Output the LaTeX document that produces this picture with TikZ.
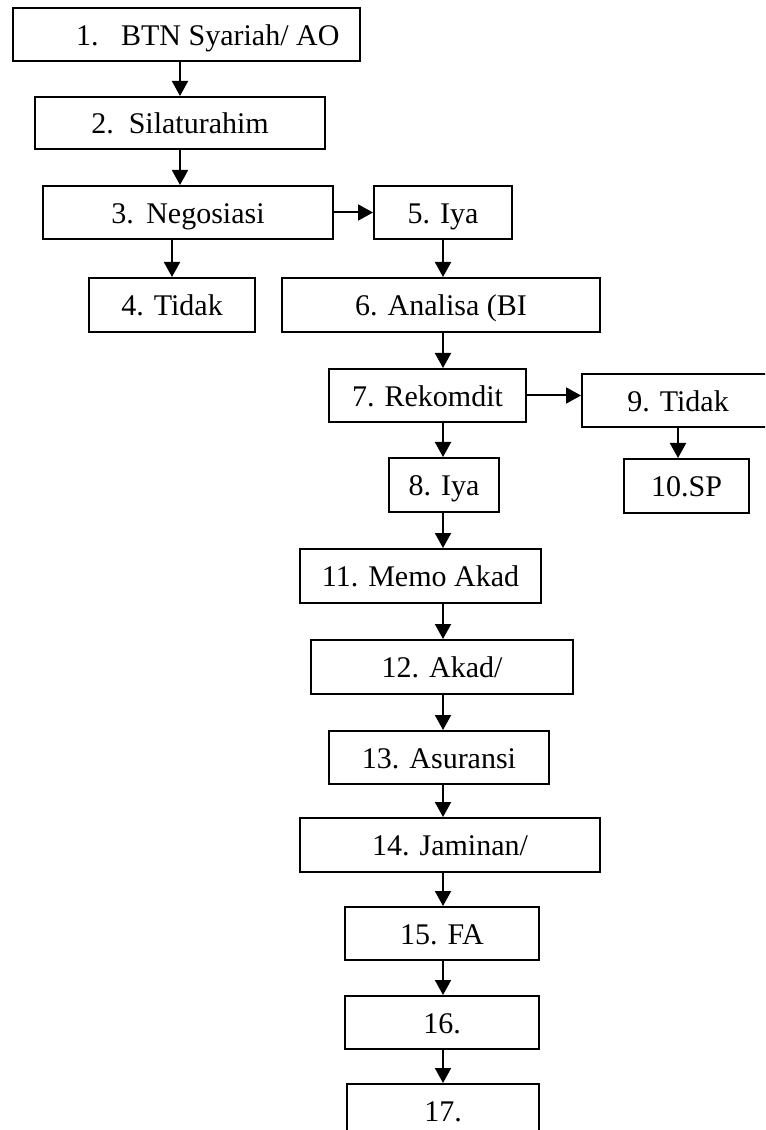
\documentclass[tikz,border=0pt]{standalone}
\usepackage{fontspec}
\setmainfont{Liberation Serif}
\usetikzlibrary{arrows.meta}

\begin{document}
\begin{tikzpicture}[
  x=0.4pt, y=-0.4pt,
  box/.style={draw, line width=0.8pt, inner sep=0pt, text height=9.5pt, text depth=0.9pt,
    font=\fontsize{12}{14}\selectfont},
  arr/.style={-{Triangle[length=6pt, width=6.4pt]}, line width=0.8pt}
]
\useasboundingbox (0,0) rectangle (765,1130);
\clip (0,0) rectangle (765,1130);

% column of arrows under 5. Iya
\coordinate (spine) at (443,0);

\node[box, minimum width=138.8pt, minimum height=21.2pt] (b1) at (186.5,34.5)
  {\hspace*{17pt}1.\hspace{9pt}BTN Syariah/ AO};
\node[box, minimum width=116pt, minimum height=20.8pt] (b2) at (180,123)
  {2.\hspace{6pt}Silaturahim};
\node[box, minimum width=116pt, minimum height=21.2pt] (b3) at (188,212.5)
  {3.\hspace{5pt}Negosiasi};
\node[box, minimum width=55.2pt, minimum height=21.2pt] (b5) at (443,212.5) {5. Iya};
\node[box, minimum width=66.4pt, minimum height=21.6pt] (b4) at (172,305) {4. Tidak};
\node[box, minimum width=127.2pt, minimum height=21.6pt] (b6) at (441,305) {6. Analisa (BI};
\node[box, minimum width=78.8pt, minimum height=21.2pt] (b7) at (427.5,395.5) {7. Rekomdit};
\node[box, minimum width=76.8pt, minimum height=21.2pt] (b9) at (678,400.5) {9. Tidak};
\node[box, minimum width=44pt, minimum height=21.6pt] (b8) at (444,485) {8. Iya};
\node[box, minimum width=50pt, minimum height=21.6pt] (b10) at (686.5,486) {10.SP};
\node[box, minimum width=96.4pt, minimum height=21.6pt] (b11) at (420.5,576) {11. Memo Akad};
\node[box, minimum width=104.8pt, minimum height=21.6pt] (b12) at (442,667) {12. Akad/};
\node[box, minimum width=88pt, minimum height=21.2pt] (b13) at (439,757.5) {13. Asuransi};
\node[box, minimum width=120pt, minimum height=21.6pt] (b14) at (450,845) {14. Jaminan/};
\node[box, minimum width=77.6pt, minimum height=21.2pt] (b15) at (442,933.5) {15. FA};
\node[box, minimum width=77.6pt, minimum height=21.2pt] (b16) at (442,1022.5) {16.};
\node[box, minimum width=76.8pt, minimum height=21.6pt] (b17) at (443,1111) {17.};

\draw[arr] (b1.south -| b2.north) -- (b2.north);
\draw[arr] (b2.south) -- (b2.south |- b3.north);
\draw[arr] (b3.east) -- (b5.west);
\draw[arr] (b3.south -| b4.north) -- (b4.north);
\draw[arr] (b5.south) -- (b5.south |- b6.north);
\draw[arr] (b6.south -| spine) -- (b7.north -| spine);
\draw[arr] (b7.east) -- (b7.east -| b9.west);
\draw[arr] (b7.south -| spine) -- (b8.north -| spine);
\draw[arr] (b9.south) -- (b9.south |- b10.north);
\draw[arr] (b8.south -| spine) -- (b11.north -| spine);
\draw[arr] (b11.south -| spine) -- (b12.north -| spine);
\draw[arr] (b12.south -| spine) -- (b13.north -| spine);
\draw[arr] (b13.south -| spine) -- (b14.north -| spine);
\draw[arr] (b14.south -| spine) -- (b15.north -| spine);
\draw[arr] (b15.south -| spine) -- (b16.north -| spine);
\draw[arr] (b16.south -| spine) -- (b17.north -| spine);
\end{tikzpicture}
\end{document}
